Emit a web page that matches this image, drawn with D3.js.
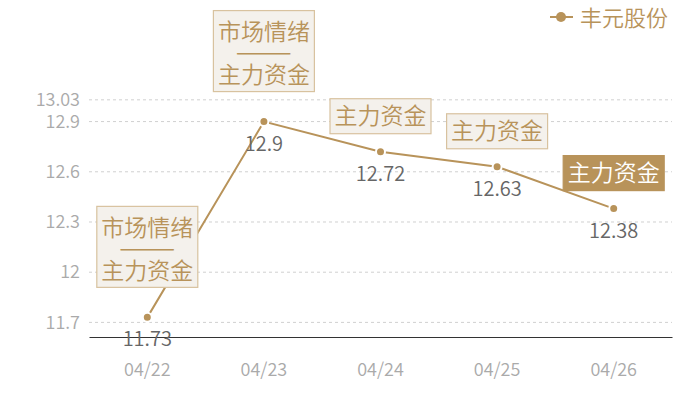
<!DOCTYPE html>
<html><head><meta charset="utf-8">
<script src="https://cdn.jsdelivr.net/npm/d3@7/dist/d3.min.js"></script>
<style>html,body{margin:0;padding:0;background:#fff;}svg{display:block;}</style>
</head><body>
<svg id="chart" width="700" height="400"></svg>
<script>
const categories = ["04/22","04/23","04/24","04/25","04/26"];
const values = [11.73, 12.9, 12.72, 12.63, 12.38];
const seriesName = "丰元股份";
const yTicks = [11.7, 12, 12.3, 12.6, 12.9, 13.03];
const annoLines = [
  ["市场情绪","——","主力资金"],
  ["市场情绪","——","主力资金"],
  ["主力资金"],
  ["主力资金"],
  ["主力资金"]
];
const annoFilled = [false,false,false,false,true];

const W=700,H=400;
const margin={left:89,right:28,top:100,bottom:63};
const font='"Noto Sans CJK SC","Noto Sans",sans-serif';
const gold='#b8935a';
const svg=d3.select('#chart');

const yMin=d3.min(values)*0.99, yMax=d3.max(values)*1.01;
const x=d3.scaleBand().domain(categories).range([margin.left,W-margin.right]);
const y=d3.scaleLinear().domain([yMin,yMax]).range([H-margin.bottom,margin.top]);
const cx=d=>x(d)+x.bandwidth()/2;

// grid
svg.append('g').selectAll('line').data(yTicks).join('line')
  .attr('x1',margin.left).attr('x2',W-margin.right)
  .attr('y1',d=>y(d)).attr('y2',d=>y(d))
  .attr('stroke','#d0d0d0').attr('stroke-width',1).attr('stroke-dasharray','3,3');

// y labels
svg.append('g').selectAll('text').data(yTicks).join('text')
  .attr('x',margin.left-9).attr('y',d=>y(d)).attr('dy','0.35em')
  .attr('text-anchor','end').attr('fill','#aaaaaa')
  .style('font-family',font).style('font-size','18px').style('font-weight',350)
  .text(d=>d3.format('')(d));

// x axis
const xAxis=svg.append('g').attr('transform',`translate(0,${H-margin.bottom})`)
  .call(d3.axisBottom(x).tickSize(0).tickPadding(26));
xAxis.select('.domain').attr('stroke','#333').attr('stroke-width',1.2);
xAxis.selectAll('text').attr('fill','#aaaaaa').style('font-family',font).style('font-size','18px').style('font-weight',350);

// line
const line=d3.line().x((d,i)=>cx(categories[i])).y(d=>y(d));
svg.append('path').datum(values).attr('d',line)
  .attr('fill','none').attr('stroke',gold).attr('stroke-width',2);

// dots
svg.append('g').selectAll('circle').data(values).join('circle')
  .attr('cx',(d,i)=>cx(categories[i])).attr('cy',d=>y(d)).attr('r',4.5)
  .attr('fill',gold).attr('stroke','#fff').attr('stroke-width',2);

// value labels
svg.append('g').selectAll('text').data(values).join('text')
  .attr('x',(d,i)=>cx(categories[i])).attr('y',d=>y(d)+22).attr('dy','0.35em')
  .attr('text-anchor','middle').attr('fill','#666')
  .style('font-family',font).style('font-size','20px').style('font-weight',350)
  .text(d=>d);

// annotations
const boxW=101;
values.forEach((v,i)=>{
  const lines=annoLines[i];
  const multi=lines.length>1;
  const h=multi?81:35;
  const gap=multi?30:18;
  const bottom=y(v)-gap;
  const top=bottom-h;
  const g=svg.append('g');
  const filled=annoFilled[i];
  g.append('rect').attr('x',cx(categories[i])-boxW/2).attr('y',top)
    .attr('width',boxW).attr('height',h)
    .attr('fill',filled?gold:'#f4f1ec')
    .attr('stroke',filled?gold:'#d8c29f').attr('stroke-width',1.2);
  const rowCenters=multi?[21.5,42.5,64.5]:[17.5];
  lines.forEach((t,j)=>{
    const dash=t==='——';
    const tx=g.append('text').attr('x',cx(categories[i])).attr('y',top+rowCenters[j])
      .attr('dy','0.35em').attr('text-anchor','middle')
      .attr('fill',filled?'#fff':gold)
      .style('font-family',font).style('font-size',dash?'8px':'23px').style('font-weight',350)
      .text(t);
    if(dash){tx.attr('textLength',52).attr('lengthAdjust','spacingAndGlyphs')
      .attr('stroke',gold).attr('stroke-width',1.1);}
  });
});

// legend
const lg=svg.append('g');
lg.append('line').attr('x1',550).attr('x2',573).attr('y1',17).attr('y2',17)
  .attr('stroke',gold).attr('stroke-width',2);
lg.append('circle').attr('cx',561).attr('cy',17).attr('r',5).attr('fill',gold);
lg.append('text').attr('x',580).attr('y',18).attr('dy','0.35em').attr('fill',gold)
  .style('font-family',font).style('font-size','22px').style('font-weight',350).text(seriesName);
</script>
</body></html>
